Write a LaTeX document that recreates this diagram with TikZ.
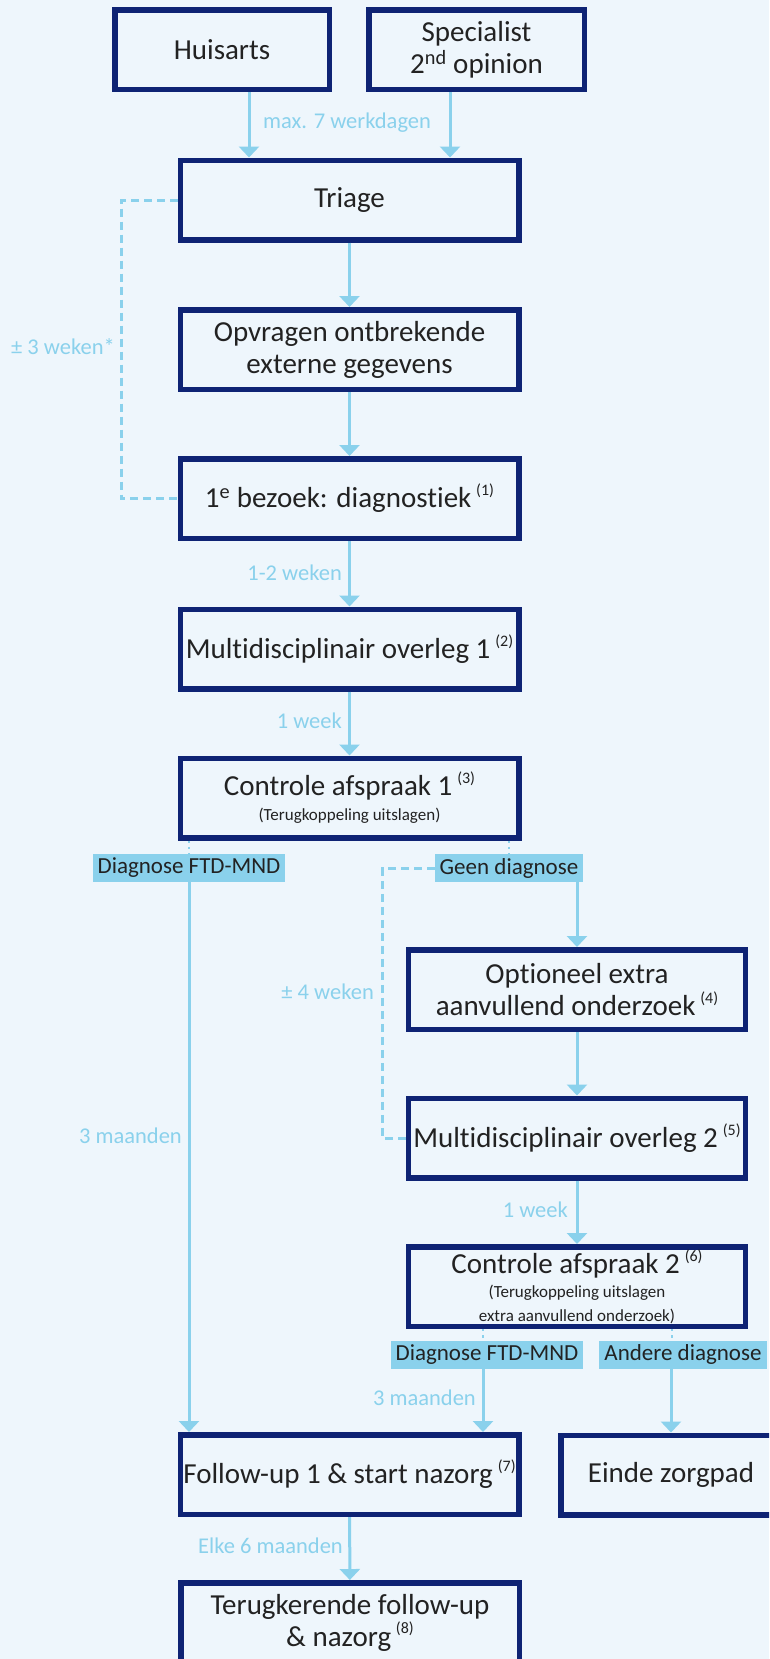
\documentclass[tikz,border=0pt]{standalone}
\usepackage{fontspec}
\setmainfont{Carlito}[Ligatures=NoCommon]
\usepackage{xcolor}
\usetikzlibrary{arrows.meta}
\definecolor{navy}{RGB}{14,35,116}
\definecolor{sky}{RGB}{138,209,236}
\definecolor{paper}{RGB}{238,246,252}
\definecolor{ink}{RGB}{34,34,34}
\newcommand{\ftn}[1]{\,\raisebox{.42em}{\fontsize{16}{16}\selectfont(#1)}}
\newcommand{\sub}[1]{{\fontsize{17}{19}\selectfont #1}}

\begin{document}
\begin{tikzpicture}[x=1pt, y=-1pt,
    box/.style={draw=navy, line width=5.5pt, fill=paper, text=ink, align=center, inner sep=0pt,
        minimum width=338.5pt, minimum height=79.5pt, font=\fontsize{29}{32}\selectfont},
    tag/.style={fill=sky, text=ink, inner xsep=5pt, inner ysep=0pt, minimum height=28pt,
        font=\fontsize{23}{25}\selectfont},
    time/.style={text=sky, inner sep=0pt, font=\fontsize{22.5}{25}\selectfont},
    flow/.style={draw=sky, line width=3pt, -{Triangle[length=11pt, width=20pt]}},
    wait/.style={draw=sky, line width=3pt, dash pattern=on 8pt off 5pt},
    dotline/.style={draw=sky, line width=2.4pt, dash pattern=on 2.4pt off 4pt}]
    \path[use as bounding box, fill=paper] (0,0) rectangle (769,1659);
    \clip (0,0) rectangle (769,1659);

    \node[box, minimum width=214.5pt] (huis) at (222,50) {Huisarts};
    \node[box, minimum width=215.5pt] (spec) at (476.5,50) {Specialist\\2\textsuperscript{nd} opinion};
    \node[box] (triage) at (349.5,200) {Triage};
    \node[box] (opvr) at (349.5,349.5) {Opvragen ontbrekende\\externe gegevens};
    \node[box] (bez1) at (349.5,498.5) {1\textsuperscript{e} bezoek: diagnostiek\ftn{1}};
    \node[box] (mdo1) at (349.5,649) {Multidisciplinair overleg 1\ftn{2}};
    \node[box] (contr1) at (349.5,798) {Controle afspraak 1\ftn{3}\\[-7pt]\sub{(Terugkoppeling uitslagen)}};
    \node[tag] (ftd1) at (189,868) {Diagnose FTD-MND};
    \node[tag] (geen) at (509,868) {Geen diagnose};
    \node[box, minimum width=337pt] (extra) at (577,989.5) {Optioneel extra\\aanvullend onderzoek\ftn{4}};
    \node[box, minimum width=337pt] (mdo2) at (577,1138) {Multidisciplinair overleg 2\ftn{5}};
    \node[box, minimum width=337pt] (contr2) at (577,1286.5) {Controle afspraak 2\ftn{6}\\[-8pt]\sub{(Terugkoppeling uitslagen}\\[-8pt]\sub{extra aanvullend onderzoek)}};
    \node[tag] (ftd2) at (487,1354.5) {Diagnose FTD-MND};
    \node[tag] (ander) at (683,1354.5) {Andere diagnose};
    \node[box] (fu1) at (349.5,1474.5) {Follow-up 1 \& start nazorg\ftn{7}};
    \node[box, minimum width=220.5pt] (einde) at (671,1475) {Einde zorgpad};
    \node[box] (fu2) at (350,1622.5) {Terugkerende follow-up\\\& nazorg\ftn{8}};

    \node[time] (t0) at (347,123) {max. 7 werkdagen};
    \node[time, anchor=east] (t1) at (115,347) {± 3 weken*};
    \node[time, anchor=east] (t2) at (342,573) {1-2 weken};
    \node[time, anchor=east] (t3) at (342,721) {1 week};
    \node[time, anchor=east] (t4) at (182,1136) {3 maanden};
    \node[time, anchor=east] (t5) at (374,992) {± 4 weken};
    \node[time, anchor=east] (t6) at (568,1210) {1 week};
    \node[time, anchor=east] (t7) at (476,1398) {3 maanden};
    \node[time, anchor=east] (t8) at (343,1546) {Elke 6 maanden};

    \draw[flow] (huis.south -| 249,0) -- (triage.north -| 249,0);
    \draw[flow] (spec.south -| 450,0) -- (triage.north -| 450,0);
    \draw[flow] (triage) -- (opvr);
    \draw[flow] (opvr) -- (bez1);
    \draw[flow] (bez1) -- (mdo1);
    \draw[flow] (mdo1) -- (contr1);
    \draw[wait] (triage.west) -- (triage.west -| 121,0) |- (bez1.west);

    \draw[dotline] (contr1.south -| ftd1.north) -- (ftd1.north);
    \draw[dotline] (contr1.south -| geen.north) -- (geen.north);
    \draw[flow] (ftd1.south) -- (fu1.north -| ftd1.south);
    \draw[flow] (geen.south -| extra.north) -- (extra.north);
    \draw[wait] (geen.west) -- (geen.west -| 382.5,0) |- (mdo2.west);
    \draw[flow] (extra) -- (mdo2);
    \draw[flow] (mdo2) -- (contr2);

    \draw[dotline] (contr2.south -| 483,0) -- (ftd2.north -| 483,0);
    \draw[dotline] (contr2.south -| 672,0) -- (ander.north -| 672,0);
    \draw[flow] (ftd2.south -| 483,0) -- (fu1.north -| 483,0);
    \draw[flow] (ander.south -| einde.north) -- (einde.north);
    \draw[flow] (fu1) -- (fu2);
\end{tikzpicture}
\end{document}
